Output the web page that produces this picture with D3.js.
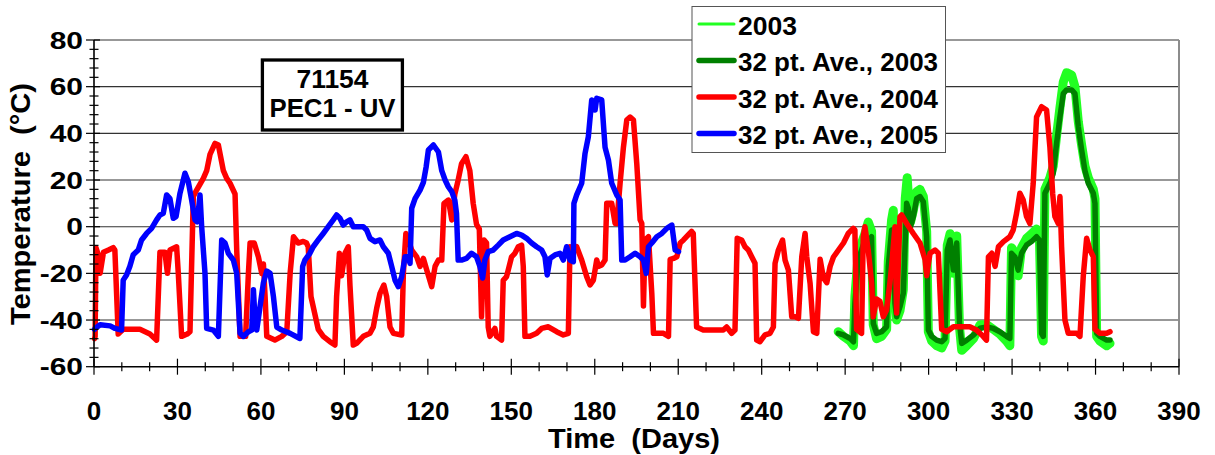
<!DOCTYPE html>
<html><head><meta charset="utf-8">
<script src="https://cdn.jsdelivr.net/npm/d3@7"></script>
<style>
body{margin:0;background:#fff}
text{font-family:"Liberation Sans",Arial,Helvetica,sans-serif;font-weight:bold;fill:#000}
</style>
</head><body>
<svg id="chart" width="1215" height="455"></svg>
<script>
// ---------- data ----------
const xTickValues = [0,30,60,90,120,150,180,210,240,270,300,330,360,390];
const xMinorValues = d3.range(0,391,10);
const yTickValues = [-60,-40,-20,0,20,40,60,80];
const yMinorValues = d3.range(-60,81,4);
const legendLabels = ["2003","32 pt. Ave., 2003","32 pt. Ave., 2004","32 pt. Ave., 2005"];
const annotationLines = ["71154","PEC1 - UV"];

const raw2003 = [[267.5,-45],[269.4,-47],[271.8,-49],[273,-51],[273.5,-30],[274.7,-12],[275.9,-7],[277.1,-3],[278.3,2],[279.5,-2],[280.1,-42],[281.3,-48],[283.1,-47],[284.9,-44],[285.5,-15],[286.7,3],[287.3,7],[287.9,-30],[288.5,-40],[289.7,-36],[290.9,-27],[291.6,12],[292.3,21],[292.9,10],[293.5,2],[294.5,7],[295.7,15],[296.9,16],[298.1,13],[299.3,-2],[299.9,-45],[301.1,-49],[302.9,-51],[304.7,-52],[305.9,-49],[306.7,-8],[307.7,-3],[308.9,-20],[310.1,-4],[311.1,-43],[311.9,-53],[313.7,-51],[316.1,-48],[318.5,-42],[320.9,-42],[323.3,-44],[325.6,-46],[328,-49],[329.2,-51],[329.8,-9],[331,-11],[332.2,-21],[333.4,-9],[335.2,-5],[337,-3],[338.8,-1],[339.8,-3],[340.6,-47],[341.2,-49],[341.8,16],[343.6,21],[344.8,26],[346,39],[347.2,51],[348.4,62],[349.6,66],[351.4,65],[352.6,60],[353.8,45],[355,35],[356.2,26],[357.4,21],[359.2,16],[359.8,12],[360.4,-47],[361.6,-49],[364,-51],[365.2,-50]];

const ave2003 = [[267.5,-45.7],[269.4,-46.4],[271.8,-47.9],[273,-49.3],[273.5,-32.9],[274.7,-14.3],[275.9,-10],[277.1,-5.7],[278.3,-7],[279.5,-4.3],[280.1,-41.4],[281.3,-45.7],[283.1,-45],[284.9,-42.9],[285.5,-17],[286.7,-1.4],[287.3,-4.3],[287.9,-32.9],[288.5,-38.6],[289.7,-34.3],[290.9,-28.6],[292.1,10],[292.7,7.9],[293.5,0],[294.5,4.3],[295.7,12],[296.9,12.9],[298.1,10.7],[299.3,-4.3],[299.9,-44.3],[301.1,-47],[302.9,-48.6],[304.7,-49.3],[305.9,-47.9],[306.7,-10],[307.7,-5.7],[308.9,-18.6],[310.1,-7],[311.1,-41.4],[311.9,-50],[313.7,-48.6],[316.1,-46.4],[318.5,-43.5],[320.9,-43],[323.3,-43.6],[325.6,-45],[328,-47],[329.2,-47.9],[329.8,-11.4],[331,-12.9],[332.2,-18.6],[333.4,-11.4],[335.2,-7.9],[337,-6.4],[338.8,-4.3],[339.8,-5.7],[340.6,-45.7],[341.2,-47],[341.8,14.3],[343.6,18.6],[344.8,22.9],[346,35.7],[347.2,47],[348.4,57],[349.6,58.6],[351.4,58.6],[352.6,57],[353.8,42.9],[355,32.9],[356.2,24],[357.4,18.6],[359.2,14.3],[359.8,10],[360.4,-45.7],[361.6,-47],[364,-48.6],[365.2,-48.6]];

const ave2004 = [[0.2,-48],[0.4,-47],[0.7,-9],[1.5,-12],[2.2,-20],[3.4,-11],[5.2,-10],[6.9,-9],[7.5,-10],[8.7,-46],[10.5,-44],[16.5,-44],[20.1,-46],[22.5,-48.6],[23.1,-30],[23.7,-11],[25.5,-11],[26.4,-20],[27.3,-10],[29.7,-8.6],[30.3,-20],[31.5,-47],[33.5,-46],[34.5,-45],[35.7,13],[36.9,15.7],[39.3,20.7],[40.5,24],[41.7,31],[43.5,35.7],[44.7,35],[46.5,24],[47.7,20.7],[48.9,18.6],[50.7,14],[51.3,-10],[52.5,-47],[54.5,-47],[55.5,-20],[56.1,-7],[57.6,-7],[59.1,-13],[60.3,-20],[60.9,-16],[61.5,-30],[62.1,-47],[65,-48.6],[67.5,-47],[69.3,-45],[70.5,-20],[71.7,-4.3],[73.4,-7],[75.2,-6.3],[76.4,-7],[77,-8.6],[78,-30],[80.6,-44],[82.4,-47],[84.8,-49.3],[86.6,-50.7],[87.2,-30],[88.2,-11.4],[89,-21],[90.2,-11.4],[91.4,-8.6],[92,-25],[93.2,-50.7],[94.4,-50],[96.8,-47],[99.2,-45.7],[100.4,-43],[101.6,-35],[102.8,-28.6],[104.2,-25],[105.2,-30],[106.4,-43],[107.6,-45.7],[110.6,-46.4],[111.2,-20],[112.1,-2.9],[113,-5.7],[114.2,-10],[116,-12.9],[117.2,-17],[118.4,-13.6],[119.6,-18.6],[121.4,-25.7],[122.6,-17],[123.8,-14.3],[125,-14.3],[125.8,10],[127.4,11.4],[128.6,2.9],[129.7,14],[130.9,20],[132.1,27],[133.7,30],[135.1,24],[136.3,10],[137.5,1],[138.5,-1],[139.3,-38.6],[140.2,-5.7],[141.1,-7],[141.7,-43],[142.3,-47],[144.1,-43.6],[144.7,-47],[146.5,-48.6],[147.1,-23],[148.3,-21.4],[150.1,-12.9],[151.3,-11.4],[152.5,-8.6],[153.7,-7.9],[154.3,-17],[154.9,-47],[156.7,-47],[159.1,-45.7],[160.9,-43.6],[163.3,-42.9],[166.3,-45],[168.7,-46.4],[170.5,-45.7],[171.1,-8.6],[172.3,-10],[173.5,-8.6],[175.3,-14.3],[177.1,-21.4],[178.3,-25],[179.5,-22.9],[180.7,-14.3],[181.3,-17],[182.5,-16.4],[183.7,-14.3],[184.3,10],[186.1,10],[187.3,1.4],[187.9,1.4],[189.1,18.6],[190.3,34],[191.5,45.7],[192.7,47],[193.9,45.7],[195.1,27],[196.3,2.9],[196.9,1.4],[197.5,-34],[198.1,-5.7],[199.3,-4.3],[200.5,-28.6],[201.1,-45.7],[202.9,-45.7],[204.7,-45.7],[206.5,-47],[207.1,-14],[208.3,-13.6],[209.5,-12.9],[210.7,-7],[211.9,-5.7],[213,-4.3],[214.8,-2],[215.4,-2.9],[216.6,-43],[219,-44.3],[222.6,-44.3],[226.2,-44.3],[227.4,-43],[229.2,-45.7],[230.4,-44.3],[231.2,-5],[232.8,-5.7],[234,-8.6],[235.2,-10],[236.4,-12.9],[237.6,-15.7],[238.2,-48.6],[239.4,-49.3],[241.2,-46.4],[243,-45.7],[244.2,-43],[244.8,-15.7],[246,-10],[247.5,-5.7],[248.4,-14.3],[249.6,-18.6],[250.8,-38.6],[252,-38.6],[253.2,-39.3],[254.4,-12.9],[255.6,-2.9],[256.2,-12.9],[257.4,-24.3],[258.6,-45],[259.8,-45.7],[261,-14],[262.2,-22],[263.4,-24],[264.6,-17],[265.8,-13],[267.6,-10],[269.4,-7],[271.1,-2.9],[272.9,-0.7],[273.5,-1.4],[274.1,-44],[275.9,-45.7],[276.5,-4.3],[277.1,0],[278.3,-10],[279.5,-24],[280.1,-38.6],[281.3,-31],[282.5,-32],[283.7,-38.6],[284.9,-35.7],[286.1,-24],[286.7,-17],[287.9,0],[288.5,-37],[289.7,4.3],[290.3,5],[292.1,1.4],[294.5,-2.9],[296.9,-7],[298.7,-14],[299.3,-21],[300.5,-11.4],[302.3,-10],[303.5,-11.4],[304.7,-44],[306.5,-45],[308.9,-42.9],[311.3,-42.9],[314.8,-42.9],[317.2,-44.3],[319.6,-47],[320.8,-48.6],[321.5,-12.9],[322.7,-11.4],[323.9,-17],[325.1,-8.6],[326.9,-6.4],[329.2,-4.3],[330.4,-1.4],[331.6,5.7],[332.8,14.3],[334,11.4],[335.2,4.3],[336.4,1.4],[337.6,18.6],[338.8,47],[340.6,51.4],[342.4,50],[343.6,34],[344.6,14],[345.4,4.3],[346.6,1.4],[347.2,12.9],[347.8,-8.6],[349,-40],[350.2,-45.7],[353.2,-45.7],[354.4,-47],[355.6,-21],[356.8,-5],[358,-10],[359.2,-12.9],[359.8,-44],[361.6,-45.7],[364,-45.7],[365.2,-45]];

const ave2005 = [[0.2,-44],[0.4,-43.6],[2.2,-42],[5.8,-42.5],[7.6,-43.6],[9.9,-44.3],[10.5,-22.9],[11.7,-20.7],[12.9,-17],[14.1,-12],[15.9,-10],[17.1,-5.7],[18.9,-2.9],[20.7,-0.7],[22.5,2.9],[23.7,5],[24.9,5.7],[26.1,13.6],[27.3,12],[28.5,3.6],[29.5,4.3],[30.9,14.3],[32.7,22.9],[33.9,19.3],[35.1,11.4],[36.3,2.9],[37.1,2.1],[38.1,13.6],[38.7,0],[39.9,-20],[40.5,-43.6],[42.9,-44.3],[44.7,-47],[45.9,-5.7],[47.1,-7],[48.3,-11.4],[50.1,-14.3],[51.3,-20],[52.5,-45.7],[53.7,-47],[55.5,-45],[56.7,-44.3],[57.3,-27],[57.9,-40],[58.5,-44.3],[59.7,-34],[60.9,-24],[62.1,-19],[63.3,-20],[64.5,-30],[65.7,-43],[67.5,-44.3],[70.5,-45.7],[74,-47.9],[75,-17],[75.8,-14.3],[77.6,-11.4],[78.8,-8.6],[80.6,-5.7],[82.4,-2.9],[84.2,0],[86,2.9],[87.2,5],[88.4,3.6],[89.6,0.7],[90.8,2.1],[92,2.9],[93.2,0],[95,0],[96.8,0],[98,-1.4],[99.2,-5],[101,-6.4],[102.8,-5.7],[104,-8.6],[105.8,-11.4],[107,-17],[108.2,-22.9],[109.4,-25.7],[110.6,-21.4],[111.8,-12.9],[113,-12.9],[113.6,-15.7],[114.2,7.9],[115.4,12],[117.2,15.7],[118.4,19],[119.4,25.7],[120.2,32.9],[122,35],[123.8,32],[125,24],[126.2,20],[127.4,17],[128.6,15],[129.7,11.4],[130.3,5.7],[130.9,-14.3],[132.1,-14.3],[133.9,-13.6],[135.7,-11.4],[137.5,-12.9],[138.7,-17],[139.7,-22],[140.5,-14.3],[141.7,-10.7],[143.5,-10],[145.3,-7.9],[147.1,-5.7],[149.5,-4.3],[151.9,-2.9],[153.7,-3.6],[155.5,-5],[157.3,-7],[159.1,-8.6],[160.9,-10],[162.1,-12.9],[162.9,-20.7],[163.9,-13.6],[165.7,-12.1],[167.5,-11.4],[168.7,-14.3],[169.9,-8.6],[171.1,-14.3],[172.3,-15],[172.5,10],[173.5,13.6],[175.3,18.6],[176.5,31.4],[177.7,38.6],[178.9,54.3],[180.1,50],[180.7,55],[182.5,54.3],[183.7,34],[184.9,28.6],[186.1,18.6],[187.9,13.6],[189.1,11.4],[189.7,-14.3],[190.9,-14.3],[192.7,-12.9],[194.5,-11.4],[196.3,-12.9],[197.5,-14.3],[198.5,-20],[199.3,-8.6],[200.5,-7],[202.3,-4.3],[204.1,-2.9],[205.9,-0.7],[207.7,0.7],[208.9,-10],[210.1,-10.7]];

// ---------- layout ----------
const svg = d3.select("#chart");
const L = 94, R = 1179, T = 40, B = 366.7;
const x = d3.scaleLinear().domain([0,390]).range([L,R]);
const y = d3.scaleLinear().domain([-60,80]).range([B,T]);

// gridlines
svg.append("g").selectAll("line").data(yTickValues.filter(v=>v>-60)).join("line")
  .attr("x1",L).attr("x2",R).attr("y1",d=>y(d)).attr("y2",d=>y(d))
  .attr("stroke","#333").attr("stroke-width",1.1);
// right border
svg.append("line").attr("x1",R).attr("x2",R).attr("y1",T).attr("y2",B)
  .attr("stroke","#8c8c8c").attr("stroke-width",2);

// series
const line = d3.line().x(d=>x(d[0])).y(d=>y(d[1]));
const seriesList = [
  {data:raw2003, color:"#22ff22", w:9},
  {data:ave2003, color:"#008000", w:5.5},
  {data:ave2004, color:"#ff0000", w:5.5},
  {data:ave2005, color:"#0000ff", w:5.5}
];
svg.append("g").selectAll("path").data(seriesList).join("path")
  .attr("d",d=>line(d.data)).attr("fill","none")
  .attr("stroke",d=>d.color).attr("stroke-width",d=>d.w)
  .attr("stroke-linejoin","round").attr("stroke-linecap","round");

// axes
const ax = svg.append("g");
ax.append("line").attr("x1",L).attr("x2",R).attr("y1",B).attr("y2",B).attr("stroke","#000").attr("stroke-width",1.6);
ax.append("line").attr("x1",L).attr("x2",L).attr("y1",T).attr("y2",B).attr("stroke","#000").attr("stroke-width",1.6);
ax.selectAll(".xmin").data(xMinorValues).join("line")
  .attr("x1",d=>x(d)).attr("x2",d=>x(d))
  .attr("y1",d=>B-(d%30===0?8:4.5)).attr("y2",d=>B+(d%30===0?8:4.5))
  .attr("stroke","#000").attr("stroke-width",1.2);
ax.selectAll(".ymin").data(yMinorValues).join("line")
  .attr("y1",d=>y(d)).attr("y2",d=>y(d))
  .attr("x1",d=>L-(d%20===0?8:4.5)).attr("x2",d=>L+(d%20===0?6:4.5))
  .attr("stroke","#000").attr("stroke-width",1.2);
ax.selectAll(".xl").data(xTickValues).join("text")
  .attr("x",d=>x(d)).attr("y",420).attr("text-anchor","middle")
  .attr("font-size",26).text(d=>d);
ax.selectAll(".yl").data(yTickValues).join("text")
  .attr("text-anchor","end")
  .attr("transform",d=>`translate(83,${y(d)+8.5}) scale(1.25,1)`)
  .attr("font-size",24).text(d=>d);

// axis titles
svg.append("text").attr("x",634).attr("y",448).attr("text-anchor","middle")
  .attr("font-size",27).attr("textLength",172).attr("lengthAdjust","spacingAndGlyphs")
  .style("white-space","pre").text("Time  (Days)");
svg.append("text").attr("transform","translate(30,204) rotate(-90)").attr("text-anchor","middle")
  .attr("font-size",27).attr("textLength",242).attr("lengthAdjust","spacingAndGlyphs")
  .style("white-space","pre").text("Temperature  (°C)");

// annotation box
const ann = svg.append("g");
ann.append("rect").attr("x",262.4).attr("y",60).attr("width",140).attr("height",70)
  .attr("fill","#fff").attr("stroke","#000").attr("stroke-width",3.3);
ann.selectAll("text").data(annotationLines).join("text")
  .attr("x",332.5).attr("y",(d,i)=>87.5+i*29.5).attr("text-anchor","middle")
  .attr("font-size",25).attr("textLength",(d,i)=>i===0?72:126).attr("lengthAdjust","spacingAndGlyphs")
  .text(d=>d);

// legend
const lg = svg.append("g");
lg.append("rect").attr("x",692).attr("y",6.5).attr("width",253.5).attr("height",146)
  .attr("fill","#fff").attr("stroke","#555").attr("stroke-width",1);
const lgRows = legendLabels.map((t,i)=>({t, c:seriesList[i].color, w: i===0?3:5.5, yy:24+i*36.5}));
lg.selectAll("line").data(lgRows).join("line")
  .attr("x1",699).attr("x2",734).attr("y1",d=>d.yy).attr("y2",d=>d.yy)
  .attr("stroke",d=>d.c).attr("stroke-width",d=>d.w).attr("stroke-linecap","round");
lg.selectAll("text").data(lgRows).join("text")
  .attr("x",738).attr("y",d=>d.yy+10.5).attr("font-size",25)
  .attr("textLength",(d,i)=>i===0?59:200).attr("lengthAdjust","spacingAndGlyphs")
  .text(d=>d.t);
</script>
</body></html>
